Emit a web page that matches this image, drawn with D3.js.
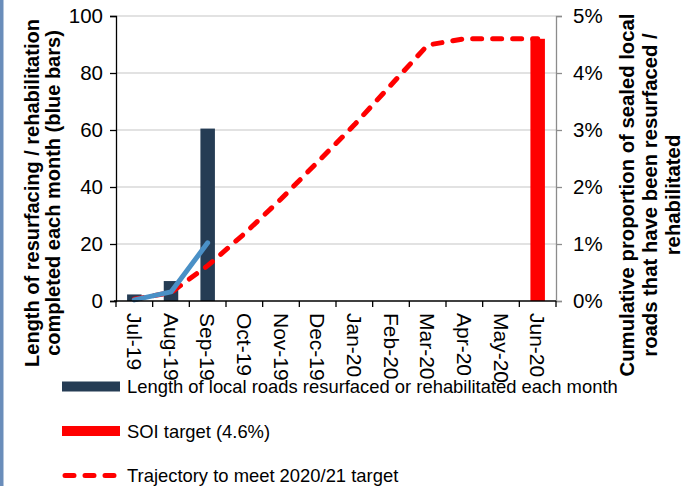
<!DOCTYPE html>
<html>
<head>
<meta charset="utf-8">
<script src="https://cdn.jsdelivr.net/npm/d3@7"></script>
<style>
  html, body { margin: 0; padding: 0; background: #fff; }
  svg { display: block; font-family: "Liberation Sans", Arial, sans-serif; }
</style>
</head>
<body>
<svg id="chart" width="688" height="486"></svg>
<script>
// Months of the 2019/20 financial year
const months = ["Jul-19", "Aug-19", "Sep-19", "Oct-19", "Nov-19", "Dec-19",
                "Jan-20", "Feb-20", "Mar-20", "Apr-20", "May-20", "Jun-20"];

// Length resurfaced / rehabilitated each month (left axis)
const monthlyLength = [2.3, 7.0, 60.5, null, null, null, null, null, null, null, null, null];

// Cumulative proportion actually achieved (%, right axis)
const cumulativeActual = [0.02, 0.16, 1.02];

// Trajectory to meet the 2020/21 target (%, right axis)
const trajectory = [0.03, 0.15, 0.62, 1.18, 1.79, 2.44, 3.09, 3.79, 4.49, 4.6, 4.6, 4.6];

// SOI target, shown as a bar in the final month (%)
const soiTarget = { month: "Jun-20", value: 4.6 };

const leftTicks = [0, 20, 40, 60, 80, 100];
const rightTicks = [0, 1, 2, 3, 4, 5];

const legendItems = [
  { label: "Length of local roads resurfaced or rehabilitated each month", type: "bar" },
  { label: "SOI target (4.6%)", type: "target" },
  { label: "Trajectory to meet 2020/21 target", type: "dash" }
];

const svg = d3.select("#chart");
const plot = { left: 116, right: 556, top: 16, bottom: 301 };

const x = d3.scaleBand().domain(months).range([plot.left, plot.right]).padding(0);
const yL = d3.scaleLinear().domain([0, 100]).range([plot.bottom, plot.top]);
const yR = d3.scaleLinear().domain([0, 5]).range([plot.bottom, plot.top]);
const barW = 14.5;
const cx = m => x(m) + x.bandwidth() / 2;

// left-edge accent stripe
svg.append("rect").attr("x", 0).attr("y", 0).attr("width", 3.5).attr("height", 486)
  .attr("fill", "#6a8dba");

// gridlines
svg.append("g").selectAll("line").data(leftTicks.filter(d => d > 0)).join("line")
  .attr("x1", plot.left).attr("x2", plot.right)
  .attr("y1", d => yL(d)).attr("y2", d => yL(d))
  .attr("stroke", "#d9d9d9").attr("stroke-width", 1.3);

// monthly bars
svg.append("g").selectAll("rect")
  .data(months.map((m, i) => ({ m, v: monthlyLength[i] })).filter(d => d.v != null))
  .join("rect")
  .attr("x", d => cx(d.m) - barW / 2).attr("width", barW)
  .attr("y", d => yL(d.v)).attr("height", d => yL(0) - yL(d.v))
  .attr("fill", "#253c54");

// SOI target bar
svg.append("rect")
  .attr("x", cx(soiTarget.month) - barW / 2).attr("width", barW)
  .attr("y", yR(soiTarget.value)).attr("height", yR(0) - yR(soiTarget.value))
  .attr("fill", "#ff0000");

// trajectory
const line = d3.line().x(d => cx(d.m)).y(d => yR(d.v));
svg.append("path")
  .datum(months.map((m, i) => ({ m, v: trajectory[i] })))
  .attr("d", line).attr("fill", "none")
  .attr("stroke", "#ff0000").attr("stroke-width", 5)
  .attr("stroke-dasharray", "9,11").attr("stroke-linecap", "round");

// cumulative actual
svg.append("path")
  .datum(cumulativeActual.map((v, i) => ({ m: months[i], v })))
  .attr("d", line).attr("fill", "none")
  .attr("stroke", "#4a90c6").attr("stroke-width", 5)
  .attr("stroke-linecap", "round").attr("stroke-linejoin", "round");

// left axis
const gL = svg.append("g").attr("transform", `translate(${plot.left},0)`)
  .call(d3.axisLeft(yL).tickValues(leftTicks).tickSize(6).tickPadding(7));
gL.select(".domain").attr("stroke", "#000").attr("stroke-width", 1.3);
gL.selectAll(".tick line").attr("stroke", "#000").attr("stroke-width", 1.3);
gL.selectAll(".tick text").attr("font-size", 20.5).attr("fill", "#000")
  .attr("font-family", "Liberation Sans, Arial, sans-serif");

// right axis
const gR = svg.append("g").attr("transform", `translate(${plot.right},0)`)
  .call(d3.axisRight(yR).tickValues(rightTicks).tickFormat(d => d + "%").tickSize(6).tickPadding(11));
gR.select(".domain").attr("stroke", "#8c8c8c").attr("stroke-width", 1.3);
gR.selectAll(".tick line").attr("stroke", "#8c8c8c").attr("stroke-width", 1.3);
gR.selectAll(".tick text").attr("font-size", 20.5).attr("fill", "#000")
  .attr("font-family", "Liberation Sans, Arial, sans-serif");

// bottom axis: ticks on band boundaries
const gB = svg.append("g");
gB.append("line").attr("x1", plot.left - 2).attr("x2", plot.right)
  .attr("y1", plot.bottom).attr("y2", plot.bottom)
  .attr("stroke", "#000").attr("stroke-width", 1.3);
const bounds = months.map(m => x(m)).concat([plot.right]);
gB.selectAll("line.tk").data(bounds).join("line").attr("class", "tk")
  .attr("x1", d => d).attr("x2", d => d)
  .attr("y1", plot.bottom).attr("y2", plot.bottom + 6)
  .attr("stroke", "#000").attr("stroke-width", 1.3);
gB.selectAll("text").data(months).join("text")
  .attr("transform", d => `translate(${cx(d)},${plot.bottom + 12}) rotate(90)`)
  .attr("dominant-baseline", "central").attr("text-anchor", "start")
  .attr("font-size", 21).attr("fill", "#000").text(d => d);

// axis titles
const leftTitle = ["Length of resurfacing / rehabilitation", "completed each month (blue bars)"];
svg.append("g").selectAll("text").data(leftTitle).join("text")
  .attr("transform", (d, i) => `translate(${32 + i * 21},193) rotate(-90)`)
  .attr("text-anchor", "middle").attr("dominant-baseline", "central")
  .attr("font-size", 20).attr("font-weight", "bold").attr("fill", "#000").text(d => d);

const rightTitle = ["Cumulative proportion of sealed local", "roads that have been resurfaced /", "rehabilitated"];
svg.append("g").selectAll("text").data(rightTitle).join("text")
  .attr("transform", (d, i) => `translate(${627 + i * 23},195) rotate(-90)`)
  .attr("text-anchor", "middle").attr("dominant-baseline", "central")
  .attr("font-size", 20.3).attr("font-weight", "bold").attr("fill", "#000").text(d => d);

// legend
const lg = svg.append("g").selectAll("g").data(legendItems).join("g")
  .attr("transform", (d, i) => `translate(62,${386.5 + i * 44.5})`);
lg.each(function (d) {
  const g = d3.select(this);
  if (d.type === "dash") {
    g.append("line").attr("x1", 3).attr("x2", 57).attr("y1", 0).attr("y2", 0)
      .attr("stroke", "#ff0000").attr("stroke-width", 5)
      .attr("stroke-dasharray", "9,11").attr("stroke-linecap", "round");
  } else {
    g.append("rect").attr("x", 0).attr("y", -5).attr("width", 58).attr("height", 10)
      .attr("fill", d.type === "bar" ? "#253c54" : "#ff0000");
  }
  g.append("text").attr("x", 65).attr("y", 0).attr("dominant-baseline", "central")
    .attr("font-size", 18.4).attr("fill", "#000").text(d.label);
});
</script>
</body>
</html>
